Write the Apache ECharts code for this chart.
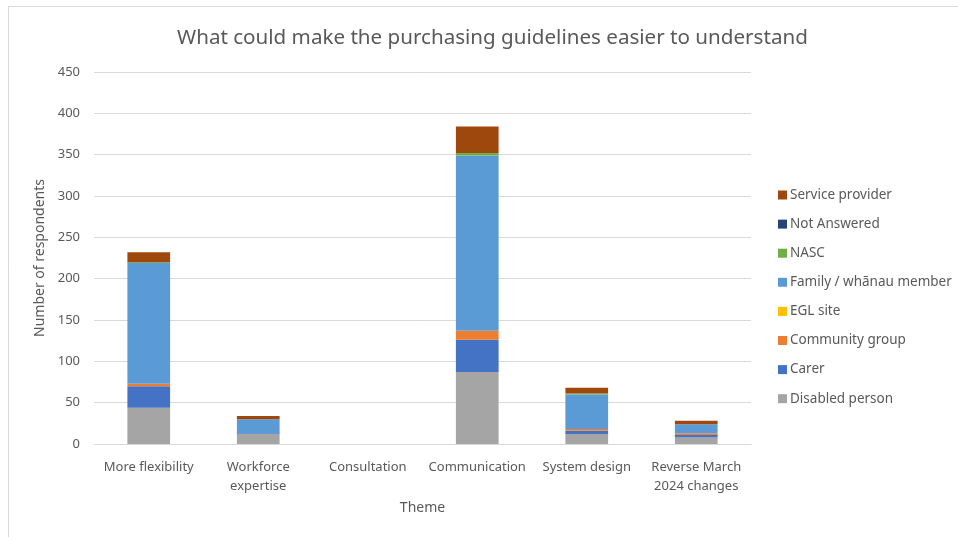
<!DOCTYPE html>
<html>
<head>
<meta charset="utf-8">
<script src="https://cdn.jsdelivr.net/npm/echarts@6/dist/echarts.min.js"></script>
<style>
  html, body { margin: 0; padding: 0; background: #ffffff; }
  #chart { width: 958px; height: 537px; }
</style>
</head>
<body>
<div id="chart"></div>
<script>
// Themes (x axis)
const categories = ['More flexibility', 'Workforce\nexpertise', 'Consultation', 'Communication', 'System design', 'Reverse March\n2024 changes'];

// Respondents per theme, by respondent type (stacked bottom to top)
const disabledPerson   = [44, 12, 0, 87, 12, 8];
const carer            = [26, 1, 0, 39, 4, 3];
const communityGroup   = [3, 0, 0, 11, 2, 2];
const eglSite          = [0, 0, 0, 0, 0, 0];
const familyWhanau     = [146, 17, 0, 212, 42, 11];
const nasc             = [1, 0, 0, 3, 1, 0];
const notAnswered      = [0, 0, 0, 0, 0, 0];
const serviceProvider  = [12, 4, 0, 32, 7, 4];

const yTicks = { min: 0, max: 450, interval: 50 };

const seriesDefs = [
  ['Disabled person', disabledPerson, '#A5A5A5'],
  ['Carer', carer, '#4472C4'],
  ['Community group', communityGroup, '#ED7D31'],
  ['EGL site', eglSite, '#FFC000'],
  ['Family / whānau member', familyWhanau, '#5B9BD5'],
  ['NASC', nasc, '#70AD47'],
  ['Not Answered', notAnswered, '#264478'],
  ['Service provider', serviceProvider, '#9E480E']
];

const font = 'Noto Sans';
const textColor = '#595959';

const chart = echarts.init(document.getElementById('chart'), null, { renderer: 'canvas' });

chart.setOption({
  animation: false,
  backgroundColor: '#ffffff',
  textStyle: { fontFamily: font },
  title: {
    text: 'What could make the purchasing guidelines easier to understand',
    left: 172,
    top: 23,
    textStyle: { fontFamily: font, fontSize: 20.6, fontWeight: 'normal', color: textColor }
  },
  graphic: [
    { type: 'line', shape: { x1: 8, y1: 6.5, x2: 958, y2: 6.5 }, style: { stroke: '#d9d9d9', lineWidth: 1 } },
    { type: 'line', shape: { x1: 8.5, y1: 6, x2: 8.5, y2: 537 }, style: { stroke: '#d9d9d9', lineWidth: 1 } }
  ],
  legend: {
    orient: 'vertical',
    left: 773,
    top: 183,
    itemWidth: 9,
    itemHeight: 9,
    itemGap: 15.1,
    icon: 'rect',
    textStyle: { fontFamily: font, fontSize: 13.5, color: textColor, padding: [0, 0, 0, -2] },
    data: seriesDefs.map(d => d[0]).slice().reverse()
  },
  grid: { left: 94, right: 207, top: 72, bottom: 93, containLabel: false },
  xAxis: {
    type: 'category',
    data: categories,
    name: 'Theme',
    nameLocation: 'middle',
    nameGap: 57,
    nameTextStyle: { fontFamily: font, fontSize: 14, color: textColor },
    axisLine: { lineStyle: { color: '#d9d9d9' } },
    axisTick: { show: false },
    axisLabel: { fontFamily: font, fontSize: 13, color: textColor, margin: 14, lineHeight: 19, interval: 0 }
  },
  yAxis: {
    type: 'value',
    min: yTicks.min,
    max: yTicks.max,
    interval: yTicks.interval,
    name: 'Number of respondents',
    nameLocation: 'middle',
    nameGap: 45,
    nameRotate: 90,
    nameTextStyle: { fontFamily: font, fontSize: 14, color: textColor },
    axisLine: { show: false },
    axisTick: { show: false },
    splitLine: { lineStyle: { color: '#d9d9d9', width: 1 } },
    axisLabel: { fontFamily: font, fontSize: 13, color: textColor, margin: 14 }
  },
  series: seriesDefs.map(([name, data, color]) => ({
    name: name,
    type: 'bar',
    stack: 'total',
    data: data,
    barWidth: '39%',
    itemStyle: { color: color },
    emphasis: { disabled: true }
  }))
});
</script>
</body>
</html>
